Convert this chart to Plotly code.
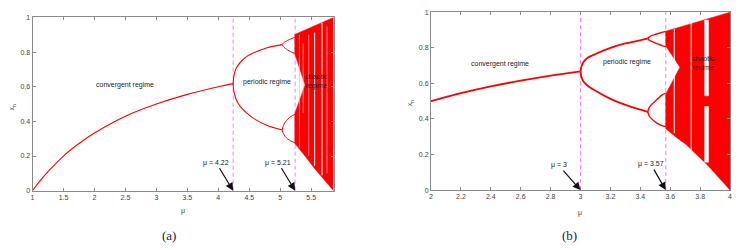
import plotly.graph_objects as go

# ---------------- Panel (a) data ----------------
mu_a_conv = [1.0, 1.1, 1.25, 1.5, 1.75, 2.0, 2.5, 3.0, 3.5, 4.0, 4.24]
x_a_conv = [0.0, 0.048, 0.11, 0.20, 0.272, 0.333, 0.43, 0.50, 0.556, 0.60, 0.618]

mu_a_p2 = [4.24, 4.245, 4.26, 4.28, 4.32, 4.38, 4.46, 4.60, 4.80, 5.03]
x_a_p2_up = [0.618, 0.645, 0.675, 0.70, 0.725, 0.75, 0.775, 0.80, 0.826, 0.843]
x_a_p2_lo = [0.618, 0.59, 0.56, 0.535, 0.505, 0.475, 0.448, 0.41, 0.375, 0.35]

mu_a_p4 = [5.03, 5.05, 5.08, 5.12, 5.17, 5.235]
x_a_p4_a = [0.843, 0.852, 0.860, 0.868, 0.876, 0.886]
x_a_p4_b = [0.843, 0.832, 0.822, 0.812, 0.802, 0.792]
x_a_p4_c = [0.35, 0.375, 0.395, 0.413, 0.428, 0.44]
x_a_p4_d = [0.35, 0.33, 0.313, 0.298, 0.287, 0.277]

mu_a_chaos_top = [5.235, 5.4, 5.6, 5.75, 5.86]
x_a_chaos_top = [0.902, 0.927, 0.958, 0.982, 1.0]
mu_a_chaos_bot = [5.86, 5.7, 5.55, 5.4, 5.235]
x_a_chaos_bot = [0.0, 0.065, 0.13, 0.2, 0.272]
mu_a_notch = [5.235, 5.40, 5.235]
x_a_notch = [0.445, 0.61, 0.79]

mu_a_windows_strong = [5.555, 5.674]
x_a_win_strong_bot = [0.144, 0.088]
x_a_win_strong_top = [0.913, 0.97]
mu_a_windows_faint = [5.31, 5.37, 5.46, 5.755]
x_a_win_faint_bot = [0.25, 0.45, 0.2, 0.10]
x_a_win_faint_top = [0.90, 0.85, 0.9, 0.95]

mu_a_marks = [4.24, 5.24]
mu_a_labels = ["μ = 4.22", "μ = 5.21"]
a_xticks = [1, 1.5, 2, 2.5, 3, 3.5, 4, 4.5, 5, 5.5]
a_xticklabels = ["1", "1.5", "2", "2.5", "3", "3.5", "4", "4.5", "5", "5.5"]

# ---------------- Panel (b) data ----------------
mu_b_conv = [2.0, 2.2, 2.4, 2.6, 2.8, 3.0]
x_b_conv = [0.5, 0.545, 0.583, 0.615, 0.643, 0.667]

mu_b_p2 = [3.0, 3.005, 3.02, 3.05, 3.1, 3.2, 3.3, 3.4, 3.449]
x_b_p2_up = [0.667, 0.69, 0.72, 0.745, 0.765, 0.799, 0.824, 0.842, 0.852]
x_b_p2_lo = [0.667, 0.64, 0.61, 0.585, 0.558, 0.513, 0.479, 0.452, 0.44]

mu_b_p4 = [3.449, 3.46, 3.48, 3.5, 3.52, 3.545, 3.57]
x_b_p4_a = [0.852, 0.861, 0.869, 0.875, 0.880, 0.886, 0.892]
x_b_p4_b = [0.852, 0.842, 0.834, 0.827, 0.820, 0.812, 0.806]
x_b_p4_c = [0.44, 0.465, 0.485, 0.501, 0.517, 0.535, 0.545]
x_b_p4_d = [0.44, 0.415, 0.397, 0.383, 0.372, 0.362, 0.355]

mu_b_chaos_top = [3.57, 3.7, 3.8, 3.9, 4.0]
x_b_chaos_top = [0.893, 0.925, 0.95, 0.975, 1.0]
mu_b_chaos_bot = [4.0, 3.95, 3.9, 3.85, 3.8, 3.75, 3.7, 3.65, 3.6, 3.57]
x_b_chaos_bot = [0.0, 0.048, 0.095, 0.14, 0.18, 0.22, 0.26, 0.29, 0.325, 0.345]
mu_b_notch = [3.57, 3.665, 3.57]
x_b_notch = [0.54, 0.69, 0.81]

mu_b_windows = [3.627, 3.74]
x_b_win_bot = [0.32, 0.22]
x_b_win_top = [0.905, 0.94]
mu_b_p3_window = [3.83, 3.856]
x_b_p3_segments = [[0.157, 0.47], [0.53, 0.955]]

mu_b_marks = [3.0, 3.57]
mu_b_labels = ["μ = 3", "μ = 3.57"]
b_xticks = [2, 2.2, 2.4, 2.6, 2.8, 3, 3.2, 3.4, 3.6, 3.8, 4]
b_xticklabels = ["2", "2.2", "2.4", "2.6", "2.8", "3", "3.2", "3.4", "3.6", "3.8", "4"]

y_ticks = [0, 0.2, 0.4, 0.6, 0.8, 1]
y_ticklabels = ["0", "0.2", "0.4", "0.6", "0.8", "1"]

RED = "#ff0000"
FONT = "Liberation Sans, Arial, sans-serif"
fig = go.Figure()


def add_line(x, y, xa, ya, w):
    fig.add_trace(go.Scatter(x=x, y=y, mode="lines", xaxis=xa, yaxis=ya,
                             line=dict(color=RED, width=w, shape="spline", smoothing=0.6),
                             hoverinfo="skip"))


def add_chaos(mt, xt, mb, xb, mn, xn, xa, ya):
    px = mt + mb + mn + [mt[0]]
    py = xt + xb + xn + [xt[0]]
    fig.add_trace(go.Scatter(x=px, y=py, mode="lines", fill="toself", fillcolor=RED,
                             line=dict(color=RED, width=0.5), xaxis=xa, yaxis=ya,
                             hoverinfo="skip"))


def add_windows(mus, bots, tops, xa, ya, w, color="white"):
    xs, ys = [], []
    for m, b, t in zip(mus, bots, tops):
        xs += [m, m, None]
        ys += [b, t, None]
    fig.add_trace(go.Scatter(x=xs, y=ys, mode="lines", xaxis=xa, yaxis=ya,
                             line=dict(color=color, width=w), hoverinfo="skip"))


def add_marks(mus, xa, ya):
    for m in mus:
        fig.add_trace(go.Scatter(x=[m, m], y=[0, 1], mode="lines", xaxis=xa, yaxis=ya,
                                 line=dict(color="#ff7bff", width=1, dash="4px,3px"),
                                 hoverinfo="skip"))


# Panel (a)
add_marks(mu_a_marks, "x", "y")
add_chaos(mu_a_chaos_top, x_a_chaos_top, mu_a_chaos_bot, x_a_chaos_bot,
          mu_a_notch, x_a_notch, "x", "y")
add_windows(mu_a_windows_strong, x_a_win_strong_bot, x_a_win_strong_top, "x", "y", 1.0)
add_windows(mu_a_windows_faint, x_a_win_faint_bot, x_a_win_faint_top, "x", "y", 0.7, "#ffb8b8")
add_line(mu_a_conv, x_a_conv, "x", "y", 1.1)
add_line(mu_a_p2, x_a_p2_up, "x", "y", 1.1)
add_line(mu_a_p2, x_a_p2_lo, "x", "y", 1.1)
for arr in (x_a_p4_a, x_a_p4_b, x_a_p4_c, x_a_p4_d):
    add_line(mu_a_p4, arr, "x", "y", 1.0)

# Panel (b)
add_marks(mu_b_marks, "x2", "y2")
add_chaos(mu_b_chaos_top, x_b_chaos_top, mu_b_chaos_bot, x_b_chaos_bot,
          mu_b_notch, x_b_notch, "x2", "y2")
add_windows(mu_b_windows, x_b_win_bot, x_b_win_top, "x2", "y2", 1.0)
for seg in x_b_p3_segments:
    fig.add_trace(go.Scatter(
        x=[mu_b_p3_window[0], mu_b_p3_window[1], mu_b_p3_window[1], mu_b_p3_window[0], mu_b_p3_window[0]],
        y=[seg[0], seg[0], seg[1], seg[1], seg[0]], mode="lines", fill="toself",
        fillcolor="white", line=dict(color="white", width=0.5), xaxis="x2", yaxis="y2",
        hoverinfo="skip"))
add_line(mu_b_conv, x_b_conv, "x2", "y2", 1.8)
add_line(mu_b_p2, x_b_p2_up, "x2", "y2", 1.8)
add_line(mu_b_p2, x_b_p2_lo, "x2", "y2", 1.8)
for arr in (x_b_p4_a, x_b_p4_b, x_b_p4_c, x_b_p4_d):
    add_line(mu_b_p4, arr, "x2", "y2", 1.4)

axis_common = dict(showline=True, linecolor="#8a8a8a", linewidth=1, mirror="ticks",
                   ticks="inside", ticklen=3, tickcolor="#8a8a8a", showgrid=False,
                   zeroline=False, tickfont=dict(family=FONT, size=7, color="#444"),
                   ticklabeloverflow="allow")

fig.update_layout(
    width=743, height=250, margin=dict(l=0, r=0, t=0, b=0),
    paper_bgcolor="white", plot_bgcolor="white", showlegend=False,
    xaxis=dict(domain=[0.0413, 0.4486], range=[1, 5.86], tickvals=a_xticks,
               ticktext=a_xticklabels, anchor="y", **axis_common),
    yaxis=dict(domain=[0.2308, 0.9412], range=[0, 1.0005], tickvals=y_ticks,
               ticktext=y_ticklabels, anchor="x", **axis_common),
    xaxis2=dict(domain=[0.5805, 0.9856], range=[2, 4.002], tickvals=b_xticks,
                ticktext=b_xticklabels, anchor="y2", **axis_common),
    yaxis2=dict(domain=[0.2332, 0.9628], range=[0, 1.0005], tickvals=y_ticks,
                ticktext=y_ticklabels, anchor="x2", **axis_common),
)

ann = []
tf = dict(family=FONT, size=7, color="#222")
# regime labels
ann += [
    dict(x=2.5, y=0.61, xref="x", yref="y", text="convergent regime", showarrow=False, font=tf),
    dict(x=4.78, y=0.63, xref="x", yref="y", text="periodic regime", showarrow=False, font=tf),
    dict(x=5.58, y=0.63, xref="x", yref="y", text="chaotic<br>regime", showarrow=False,
         font=tf),
    dict(x=2.46, y=0.71, xref="x2", yref="y2", text="convergent regime", showarrow=False, font=tf),
    dict(x=3.31, y=0.72, xref="x2", yref="y2", text="periodic regime", showarrow=False, font=tf),
    dict(x=3.82, y=0.71, xref="x2", yref="y2", text="chaotic<br>regime", showarrow=False,
         font=tf),
]
# arrows with their mu labels at the tail
arrow_specs = [
    ("x", "y", mu_a_marks[0], mu_a_labels[0], -17, -28),
    ("x", "y", mu_a_marks[1], mu_a_labels[1], -17, -28),
    ("x2", "y2", mu_b_marks[0], mu_b_labels[0], -22, -25),
    ("x2", "y2", mu_b_marks[1], mu_b_labels[1], -15, -26),
]
for xr, yr, m, lab, ax, ay in arrow_specs:
    ann.append(dict(x=m, y=0, xref=xr, yref=yr, text=lab, showarrow=True, ax=ax, ay=ay,
                    arrowhead=2, arrowsize=1.3, arrowwidth=1.2, arrowcolor="#111",
                    font=tf))


def paper_text(px, py, text, font, angle=0):
    return dict(x=px / 743, y=1 - py / 250, xref="paper", yref="paper", text=text,
                textangle=angle, showarrow=False, xanchor="center", yanchor="middle",
                font=font)


axfont = dict(family=FONT, size=7, color="#444")
capfont = dict(family="Liberation Serif, Times New Roman, serif", size=13, color="#1b1b3a")
ann += [
    paper_text(11, 106, "x<sub>n</sub>", axfont, -90),
    paper_text(410, 102, "x<sub>n</sub>", axfont, -90),
    paper_text(181.7, 213, "μ", axfont),
    paper_text(580.7, 215, "μ", axfont),
    paper_text(168, 238, "(a)", capfont),
    paper_text(571, 238, "(b)", capfont),
]
fig.update_layout(annotations=ann)

fig.write_html("out.html", config={"displayModeBar": False},
               post_script="document.body.style.margin='0';document.body.style.overflow='hidden';")
